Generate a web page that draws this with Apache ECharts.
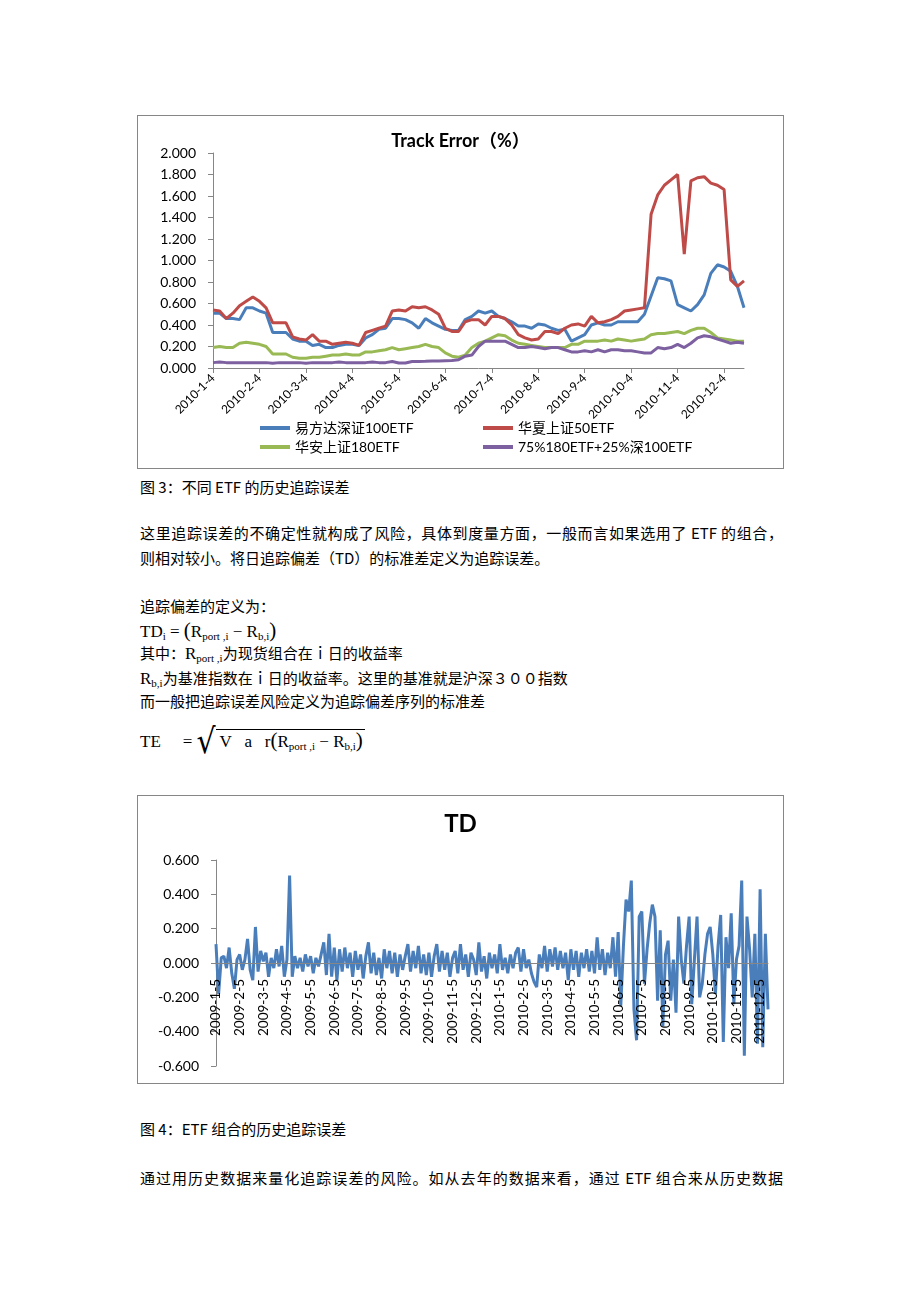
<!DOCTYPE html>
<html>
<head>
<meta charset="utf-8">
<script src="https://cdn.jsdelivr.net/npm/echarts/dist/echarts.min.js"></script>
<style>
body { margin: 0; background: #fff; }
#page { position: relative; width: 920px; height: 1302px; background: #fff; }
.box { position: absolute; border: 1px solid #868686; background: #fff; }
.t { position: absolute; left: 140px; font: 15px "Noto Sans CJK SC"; line-height: 20px; white-space: nowrap; color: #000; }
.j { white-space: normal; width: 643px; text-align: justify; text-align-last: justify; }
.f, .m { font-family: "Liberation Serif", "Noto Sans CJK SC"; font-size: 17px; }
sub { font-size: 11px; vertical-align: -3px; line-height: 0; }
.par { font-size: 21px; }
.sq { font-family: "DejaVu Serif"; font-size: 30px; display: inline-block; transform: scaleY(1.15); vertical-align: -4px; margin-left: 4px; }
.ov { border-top: 1px solid #000; padding: 2px 2px 0 4px; }
</style>
</head>
<body>
<div id="page">
  <div class="box" id="track" style="left:137px;top:115px;width:645px;height:352px"></div>

  <div class="t" style="top:477px">图 3：不同 ETF 的历史追踪误差</div>
  <div class="t j" style="top:523px">这里追踪误差的不确定性就构成了风险，具体到度量方面，一般而言如果选用了 ETF 的组合，</div>
  <div class="t" style="top:548px">则相对较小。将日追踪偏差（TD）的标准差定义为追踪误差。</div>
  <div class="t" style="top:596px">追踪偏差的定义为：</div>
  <div class="t f" style="top:620px">TD<sub>i</sub> = <span class="par">(</span>R<sub>port ,i</sub> − R<sub>b,i</sub><span class="par">)</span></div>
  <div class="t" style="top:643px">其中：<span class="m">R<sub>port ,i</sub></span>为现货组合在ｉ日的收益率</div>
  <div class="t" style="top:668px"><span class="m">R<sub>b,i</sub></span>为基准指数在ｉ日的收益率。这里的基准就是沪深３００指数</div>
  <div class="t" style="top:691px">而一般把追踪误差风险定义为追踪偏差序列的标准差</div>
  <div class="t f" style="top:730px">TE<span style="margin-left:22px">=</span><span class="sq">√</span><span class="ov">V&nbsp;&nbsp;&nbsp;a&nbsp;&nbsp;&nbsp;r<span class="par">(</span>R<sub>port ,i</sub> − R<sub>b,i</sub><span class="par">)</span></span></div>

  <div class="box" id="td" style="left:137px;top:795px;width:645px;height:287px"></div>

  <div class="t" style="top:1119px">图 4：ETF 组合的历史追踪误差</div>
  <div class="t j" style="top:1168px">通过用历史数据来量化追踪误差的风险。如从去年的数据来看，通过 ETF 组合来从历史数据</div>
</div>

<script>
// Track Error 图：每月取 4、8、12 ... 28 日
var trackTicks = ['2010-1-4', '2010-2-4', '2010-3-4', '2010-4-4', '2010-5-4', '2010-6-4', '2010-7-4', '2010-8-4', '2010-9-4', '2010-10-4', '2010-11-4', '2010-12-4']
var trackDays = [4, 8, 12, 16, 20, 24, 28]
var trackLastDays = [4, 8, 12, 16]

var efdValues = [
	0.51, 0.51, 0.46, 0.46, 0.45, 0.56, 0.56,
	0.53, 0.51, 0.33, 0.33, 0.33, 0.27, 0.25,
	0.25, 0.21, 0.22, 0.19, 0.19, 0.21, 0.22,
	0.22, 0.21, 0.28, 0.31, 0.36, 0.37, 0.46,
	0.46, 0.45, 0.42, 0.37, 0.46, 0.42, 0.39,
	0.36, 0.35, 0.35, 0.45, 0.48, 0.53, 0.51,
	0.53, 0.48, 0.46, 0.43, 0.39, 0.39, 0.37,
	0.41, 0.40, 0.37, 0.35, 0.36, 0.25, 0.28,
	0.31, 0.40, 0.42, 0.40, 0.40, 0.43, 0.43,
	0.43, 0.43, 0.50, 0.67, 0.84, 0.83, 0.81,
	0.59, 0.56, 0.53, 0.59, 0.68, 0.88, 0.96,
	0.94, 0.90, 0.76, 0.56
]
var hx50Values = [
	0.54, 0.53, 0.46, 0.51, 0.58, 0.62, 0.66,
	0.62, 0.56, 0.42, 0.42, 0.42, 0.29, 0.27,
	0.26, 0.31, 0.25, 0.25, 0.22, 0.23, 0.24,
	0.23, 0.21, 0.33, 0.35, 0.37, 0.39, 0.53,
	0.54, 0.53, 0.57, 0.56, 0.57, 0.54, 0.50,
	0.37, 0.34, 0.34, 0.43, 0.45, 0.45, 0.40,
	0.48, 0.48, 0.46, 0.40, 0.31, 0.28, 0.26,
	0.27, 0.34, 0.34, 0.32, 0.37, 0.40, 0.41,
	0.39, 0.48, 0.42, 0.43, 0.45, 0.48, 0.53,
	0.54, 0.55, 0.56, 1.43, 1.61, 1.70, 1.75,
	1.80, 1.06, 1.74, 1.77, 1.78, 1.72, 1.70,
	1.66, 0.82, 0.76, 0.81
]
var ha180Values = [
	0.19, 0.20, 0.19, 0.19, 0.23, 0.24, 0.23,
	0.22, 0.20, 0.13, 0.13, 0.13, 0.10, 0.09,
	0.09, 0.10, 0.10, 0.11, 0.12, 0.12, 0.13,
	0.12, 0.12, 0.15, 0.15, 0.16, 0.17, 0.19,
	0.17, 0.18, 0.19, 0.20, 0.22, 0.20, 0.19,
	0.14, 0.11, 0.10, 0.12, 0.19, 0.23, 0.25,
	0.28, 0.31, 0.30, 0.26, 0.23, 0.22, 0.21,
	0.20, 0.19, 0.19, 0.19, 0.19, 0.22, 0.22,
	0.25, 0.25, 0.25, 0.26, 0.25, 0.27, 0.26,
	0.25, 0.26, 0.27, 0.31, 0.32, 0.32, 0.33,
	0.34, 0.32, 0.35, 0.37, 0.37, 0.33, 0.28,
	0.27, 0.26, 0.25, 0.25
]
var mixValues = [
	0.05, 0.055, 0.05, 0.05, 0.05, 0.05, 0.05,
	0.05, 0.05, 0.045, 0.05, 0.05, 0.05, 0.05,
	0.045, 0.05, 0.05, 0.05, 0.05, 0.055, 0.05,
	0.05, 0.05, 0.05, 0.055, 0.05, 0.05, 0.06,
	0.047, 0.047, 0.06, 0.06, 0.062, 0.065, 0.065,
	0.068, 0.07, 0.077, 0.11, 0.12, 0.20, 0.25,
	0.25, 0.25, 0.25, 0.22, 0.19, 0.19, 0.20,
	0.19, 0.18, 0.19, 0.19, 0.17, 0.15, 0.15,
	0.16, 0.15, 0.17, 0.15, 0.17, 0.17, 0.16,
	0.16, 0.15, 0.14, 0.14, 0.19, 0.18, 0.19,
	0.22, 0.19, 0.23, 0.28, 0.30, 0.29, 0.27,
	0.25, 0.23, 0.24, 0.23
]

// TD 图：每月取 9 个点
var tdTicks = ['2009-1-5', '2009-2-5', '2009-3-5', '2009-4-5', '2009-5-5', '2009-6-5', '2009-7-5', '2009-8-5', '2009-9-5', '2009-10-5', '2009-11-5', '2009-12-5',
	'2010-1-5', '2010-2-5', '2010-3-5', '2010-4-5', '2010-5-5', '2010-6-5', '2010-7-5', '2010-8-5', '2010-9-5', '2010-10-5', '2010-11-5', '2010-12-5']
var tdDays = [5, 8, 11, 14, 17, 20, 23, 26, 28]
var tdLastDays = [5, 8, 11, 14]
var tdValues = [
	0.11, -0.18, 0.03, 0.04, -0.03, 0.09, -0.06, -0.15, 0.02,
	0.05, -0.04, 0.02, 0.14, -0.04, -0.10, 0.21, -0.05, 0.07,
	0.01, 0.06, -0.08, 0.03, -0.03, 0.08, -0.02, 0.10, -0.08,
	0.02, 0.51, -0.08, 0.04, -0.03, 0.03, -0.05, 0.05, -0.02,
	0.04, -0.06, 0.03, -0.02, 0.05, 0.12, -0.07, 0.17, -0.08,
	0.09, -0.10, 0.08, -0.05, 0.09, -0.03, 0.06, -0.08, 0.07,
	-0.04, 0.05, -0.09, 0.04, 0.12, -0.06, 0.06, -0.07, 0.03,
	-0.09, 0.08, -0.03, 0.07, -0.06, 0.06, -0.08, 0.05, -0.04,
	0.04, 0.11, -0.05, 0.07, -0.03, 0.10, -0.06, 0.05, -0.07,
	0.06, -0.08, 0.04, 0.11, -0.05, 0.07, -0.04, 0.06, -0.08,
	0.03, 0.07, -0.06, 0.11, -0.04, 0.05, -0.08, 0.06, 0.02,
	-0.07, 0.12, -0.05, 0.04, -0.09, 0.06, -0.03, 0.05, -0.06,
	0.11, -0.04, 0.03, -0.06, 0.05, -0.03, 0.06, 0.09, -0.05,
	0.08, -0.03, 0.02, -0.06, -0.11, -0.14, 0.05, -0.03, 0.10,
	-0.05, 0.08, -0.02, 0.09, -0.04, 0.07, -0.03, 0.06, -0.10,
	0.08, -0.04, 0.07, -0.08, 0.06, -0.03, 0.08, -0.05, 0.07,
	-0.06, 0.15, -0.04, 0.08, -0.07, 0.06, -0.03, 0.15, -0.08,
	0.18, -0.25, 0.10, 0.37, 0.30, 0.48, -0.27, -0.45, 0.27,
	0.30, -0.12, 0.08, 0.23, 0.34, 0.27, -0.22, 0.19, -0.37,
	0.05, 0.13, -0.22, 0.02, -0.29, 0.27, 0.02, -0.12, 0.10,
	0.27, -0.24, 0.02, 0.27, -0.20, -0.12, 0.05, 0.17, 0.21,
	0.05, -0.18, 0.10, 0.28, -0.46, 0.15, -0.03, 0.29, -0.24,
	0.02, 0.10, 0.48, -0.54, 0.27, 0.08, -0.20, 0.17, -0.47,
	0.43, -0.49, 0.17, -0.27
]

var latin = 'Lato, "Noto Sans CJK SC"'

function buildDates(ticks, days, lastDays) {
	var out = []
	ticks.forEach(function(t, i) {
		var ym = t.split('-').slice(0, 2).join('-')
		var list = i === ticks.length - 1 ? lastDays : days
		list.forEach(function(d) {
			out.push(ym + '-' + d)
		})
	})
	return out
}
var trackDates = buildDates(trackTicks, trackDays, trackLastDays)
var tdDates = buildDates(tdTicks, tdDays, tdLastDays)

function isTrackTick(idx, val) {
	return trackTicks.indexOf(val) >= 0
}
function isTdTick(idx, val) {
	return tdTicks.indexOf(val) >= 0
}

function lineSeries(name, data, color) {
	return {
		name: name,
		type: 'line',
		data: data,
		symbol: 'none',
		lineStyle: { color: color, width: 3 },
		itemStyle: { color: color }
	}
}
function legendAt(name, left, top) {
	return {
		data: [name],
		left: left,
		top: top,
		padding: 0,
		icon: 'rect',
		itemWidth: 30,
		itemHeight: 4,
		textStyle: { fontFamily: latin, fontSize: 14, color: '#000', lineHeight: 16 }
	}
}

var trackChart = echarts.init(document.getElementById('track'))
var tdChart = echarts.init(document.getElementById('td'))

var optionTrack = {
	animation: false,
	title: {
		text: 'Track Error（%）',
		left: 'center',
		top: 16,
		padding: 0,
		textStyle: { fontFamily: latin, fontSize: 18, fontWeight: 'bold', color: '#000' }
	},
	legend: [
		legendAt('易方达深证100ETF', 122, 304),
		legendAt('华夏上证50ETF', 345, 304),
		legendAt('华安上证180ETF', 122, 323),
		legendAt('75%180ETF+25%深100ETF', 345, 323)
	],
	grid: { left: 75, top: 37, width: 531, height: 215, outerBoundsMode: 'none' },
	xAxis: {
		type: 'category',
		boundaryGap: false,
		data: trackDates,
		axisLine: { lineStyle: { color: '#868686' } },
		axisTick: { interval: isTrackTick, length: 5, lineStyle: { color: '#868686' } },
		axisLabel: { interval: isTrackTick, rotate: 45, margin: 8, fontFamily: latin, fontSize: 12, color: '#000' },
		splitLine: { show: false }
	},
	yAxis: {
		type: 'value',
		min: 0,
		max: 2,
		interval: 0.2,
		axisLine: { show: true, lineStyle: { color: '#868686' } },
		axisTick: { show: true, length: 5, lineStyle: { color: '#868686' } },
		axisLabel: {
			margin: 17,
			fontFamily: latin,
			fontSize: 14,
			color: '#000',
			formatter: function(v) {
				return v.toFixed(3)
			}
		},
		splitLine: { show: false }
	},
	series: [
		lineSeries('易方达深证100ETF', efdValues, '#4A7EBB'),
		lineSeries('华夏上证50ETF', hx50Values, '#BE4B48'),
		lineSeries('华安上证180ETF', ha180Values, '#98B954'),
		lineSeries('75%180ETF+25%深100ETF', mixValues, '#7D60A0')
	]
}

var optionTd = {
	animation: false,
	title: {
		text: 'TD',
		left: 'center',
		top: 16,
		padding: 0,
		textStyle: { fontFamily: latin, fontSize: 24, fontWeight: 'bold', color: '#000' }
	},
	grid: { left: 78, top: 64, width: 552, height: 206, outerBoundsMode: 'none' },
	xAxis: {
		type: 'category',
		boundaryGap: false,
		data: tdDates,
		position: 'bottom',
		offset: -103, // 横轴放在 0 的位置
		z: 5, // 标签压在折线上面
		axisLine: { onZero: false, lineStyle: { color: '#868686' } },
		axisTick: { show: false },
		axisLabel: { interval: isTdTick, rotate: 90, margin: 16, fontFamily: latin, fontSize: 13.5, color: '#000' },
		splitLine: { show: false }
	},
	yAxis: {
		type: 'value',
		min: -0.6,
		max: 0.6,
		interval: 0.2,
		axisLine: { show: true, onZero: false, lineStyle: { color: '#868686' } },
		axisTick: { show: true, length: 5, lineStyle: { color: '#868686' } },
		axisLabel: {
			margin: 17,
			fontFamily: latin,
			fontSize: 14,
			color: '#000',
			formatter: function(v) {
				return v.toFixed(3)
			}
		},
		splitLine: { show: false }
	},
	series: [lineSeries('TD', tdValues, '#4A7EBB')]
}

trackChart.setOption(optionTrack)
tdChart.setOption(optionTd)
</script>
</body>
</html>
